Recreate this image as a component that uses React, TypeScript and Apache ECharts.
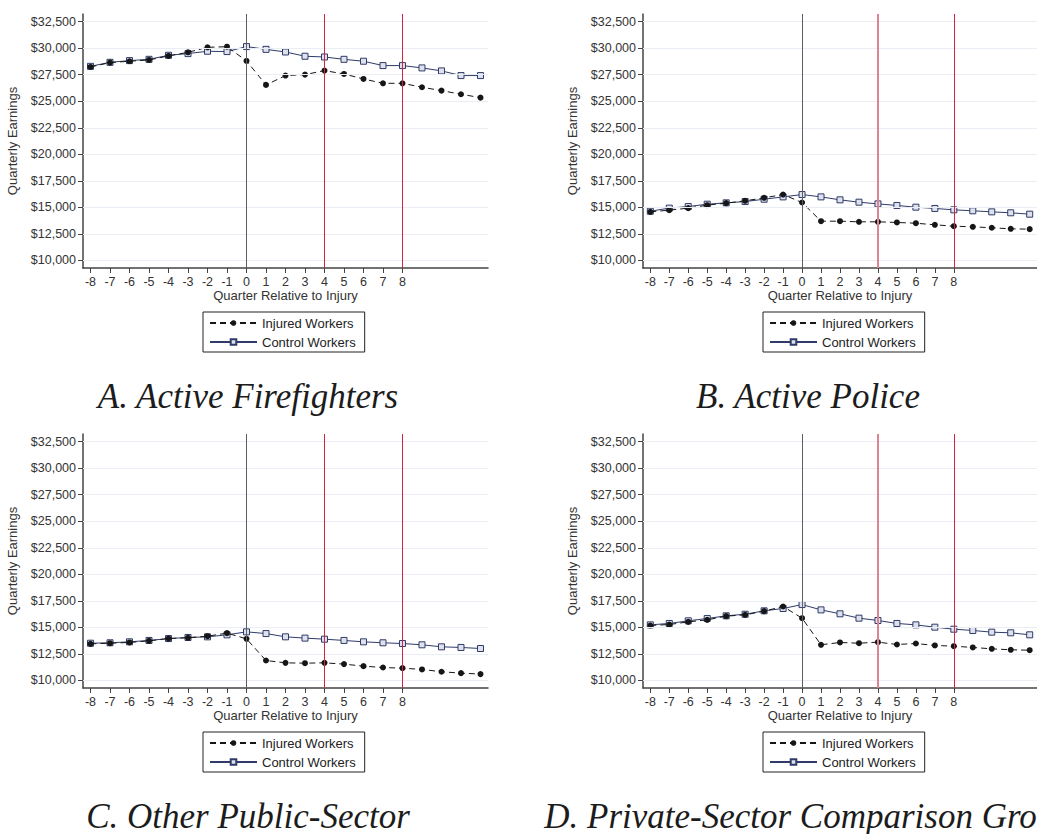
import React, { useEffect, useRef } from "react";
import * as echarts from "echarts";

// Quarters relative to the injury quarter
const quarters = [-8, -7, -6, -5, -4, -3, -2, -1, 0, 1, 2, 3, 4, 5, 6, 7, 8, 9, 10, 11, 12];
const quarterTicks = [-8, -7, -6, -5, -4, -3, -2, -1, 0, 1, 2, 3, 4, 5, 6, 7, 8];
const earningsTicks = [10000, 12500, 15000, 17500, 20000, 22500, 25000, 27500, 30000, 32500];
const markerQuarters = [4, 8];

// A. Active Firefighters
const firefightersInjured = [28230, 28640, 28770, 28890, 29270, 29610, 30080, 30140, 28800, 26540, 27420, 27510, 27890, 27570, 27100, 26690, 26690, 26320, 26000, 25660, 25340];
const firefightersControl = [28290, 28670, 28830, 28950, 29330, 29490, 29710, 29680, 30150, 29890, 29640, 29240, 29170, 28950, 28770, 28360, 28360, 28140, 27860, 27420, 27420];

// B. Active Police
const policeInjured = [14580, 14740, 14930, 15210, 15400, 15620, 15900, 16210, 15460, 13700, 13700, 13640, 13640, 13580, 13510, 13360, 13230, 13170, 13080, 12980, 12950];
const policeControl = [14640, 14930, 15080, 15300, 15430, 15550, 15770, 15990, 16210, 15990, 15710, 15490, 15330, 15180, 15020, 14900, 14770, 14680, 14580, 14490, 14360];

// C. Other Public-Sector
const publicInjured = [13450, 13510, 13580, 13730, 13950, 14020, 14170, 14460, 13920, 11880, 11660, 11630, 11660, 11540, 11350, 11220, 11160, 11040, 10820, 10690, 10600];
const publicControl = [13510, 13550, 13640, 13770, 13950, 14050, 14110, 14300, 14580, 14420, 14110, 13990, 13890, 13770, 13640, 13550, 13480, 13360, 13170, 13110, 13010];

// D. Private-Sector Comparison Group
const privateInjured = [15180, 15270, 15520, 15710, 16060, 16180, 16530, 16970, 15870, 13360, 13580, 13510, 13610, 13390, 13480, 13300, 13230, 13110, 12980, 12890, 12850];
const privateControl = [15240, 15370, 15620, 15840, 16090, 16240, 16560, 16780, 17150, 16650, 16280, 15870, 15650, 15370, 15240, 15020, 14830, 14710, 14550, 14490, 14300];

const panelTitles = [
  "A. Active Firefighters",
  "B. Active Police",
  "C. Other Public-Sector",
  "D. Private-Sector Comparison Group",
];
const injuredName = "Injured Workers";
const controlName = "Control Workers";

// Right-hand panels draw their quarter-4 rule softer and wider
const panels = [
  { injured: firefightersInjured, control: firefightersControl, left: 83, top: 14, softRule: false },
  { injured: policeInjured, control: policeControl, left: 643, top: 14, softRule: true },
  { injured: publicInjured, control: publicControl, left: 83, top: 434, softRule: false },
  { injured: privateInjured, control: privateControl, left: 643, top: 434, softRule: true },
];

const SANS = '"Liberation Sans", Arial, Helvetica, sans-serif';
const AXIS = "#444444";
const NAVY = "#2f3b69";
const INK = "#161616";
const RED = "#d42340";

const fmtDollar = (v: number) => "$" + Math.round(v).toLocaleString("en-US");

export default function App() {
  const ref = useRef<HTMLDivElement>(null);

  useEffect(() => {
    if (!ref.current) return;
    const chart = echarts.init(ref.current, null, { renderer: "svg" });

    const GRID_W = 405;
    const GRID_H = 254;
    const X_MIN = -8.385;
    const X_MAX = 12.385;

    const grid: any[] = [];
    const xAxis: any[] = [];
    const yAxis: any[] = [];
    const series: any[] = [];
    const legend: any[] = [];
    const graphic: any[] = [];

    panels.forEach((p, i) => {
      grid.push({ left: p.left, top: p.top, width: GRID_W, height: GRID_H, containLabel: false });

      xAxis.push({
        type: "value",
        gridIndex: i,
        min: X_MIN,
        max: X_MAX,
        name: "Quarter Relative to Injury",
        nameLocation: "middle",
        nameGap: 21,
        nameTextStyle: { fontFamily: SANS, fontSize: 13, color: "#333" },
        axisLine: { show: true, onZero: false, lineStyle: { color: AXIS, width: 1.5 } },
        axisTick: { show: true, length: 5, customValues: quarterTicks, lineStyle: { color: AXIS } },
        axisLabel: {
          customValues: quarterTicks,
          margin: 7,
          fontFamily: SANS,
          fontSize: 12.5,
          color: "#333",
          formatter: (v: number) => String(v),
        },
        splitLine: { show: false },
      });

      yAxis.push({
        type: "value",
        gridIndex: i,
        min: 9290,
        max: 33220,
        name: "Quarterly Earnings",
        nameLocation: "middle",
        nameGap: 64,
        nameTextStyle: { fontFamily: SANS, fontSize: 13, color: "#333" },
        axisLine: { show: true, onZero: false, lineStyle: { color: AXIS, width: 1.5 } },
        axisTick: { show: true, length: 5, customValues: earningsTicks, lineStyle: { color: AXIS } },
        axisLabel: {
          customValues: earningsTicks,
          margin: 7,
          fontFamily: SANS,
          fontSize: 12.5,
          color: "#333",
          formatter: fmtDollar,
        },
        splitLine: { show: false },
      });

      const refLines = {
        silent: true,
        symbol: "none",
        label: { show: false },
        emphasis: { disabled: true },
        data: [
          ...earningsTicks.map((v) => ({ yAxis: v, lineStyle: { color: "#e8eef3", width: 1, type: "solid" } })),
          { xAxis: 0, lineStyle: { color: "#5e5e5e", width: 1, type: "solid" } },
          ...markerQuarters.map((q) => ({
            xAxis: q,
            lineStyle:
              p.softRule && q === 4
                ? { color: "#df8393", width: 2, type: "solid" }
                : { color: RED, width: 1, type: "solid" },
          })),
        ],
      };

      series.push({
        type: "line",
        name: controlName,
        xAxisIndex: i,
        yAxisIndex: i,
        data: quarters.map((q, k) => [q, p.control[k]]),
        symbol: "rect",
        symbolSize: 6,
        color: NAVY,
        lineStyle: { color: NAVY, width: 1, type: "solid" },
        itemStyle: { color: "#dfe2ec", borderColor: NAVY, borderWidth: 1 },
        emphasis: { disabled: true },
        markLine: refLines,
        z: 3,
      });

      series.push({
        type: "line",
        name: injuredName,
        xAxisIndex: i,
        yAxisIndex: i,
        data: quarters.map((q, k) => [q, p.injured[k]]),
        symbol: "circle",
        symbolSize: 6,
        color: INK,
        lineStyle: { color: INK, width: 1, type: [6, 4] },
        itemStyle: { color: INK, borderColor: INK, borderWidth: 0 },
        emphasis: { disabled: true },
        z: 4,
      });

      legend.push({
        data: [injuredName, controlName],
        orient: "vertical",
        left: p.left + 120,
        top: p.top + 298,
        itemWidth: 47,
        itemHeight: 7,
        itemGap: 5,
        padding: [4, 9, 3, 6],
        borderColor: "#222",
        borderWidth: 1,
        borderRadius: 0,
        backgroundColor: "#fff",
        selectedMode: false,
        textStyle: { fontFamily: SANS, fontSize: 13, color: "#222", lineHeight: 14 },
      });

      graphic.push({
        type: "text",
        x: p.left + 165,
        y: p.top + 382,
        style: {
          text: panelTitles[i],
          textAlign: "center",
          textVerticalAlign: "middle",
          font: 'italic 35px "Liberation Serif", "DejaVu Serif", serif',
          lineHeight: 28,
          fill: "#1c1c1c",
        },
      });
    });

    chart.setOption({
      animation: false,
      backgroundColor: "#ffffff",
      grid,
      xAxis,
      yAxis,
      series,
      legend,
      graphic,
    });

    return () => chart.dispose();
  }, []);

  return (
    <div
      ref={ref}
      style={{ position: "absolute", left: 0, top: 0, width: 1037, height: 834 }}
    />
  );
}
